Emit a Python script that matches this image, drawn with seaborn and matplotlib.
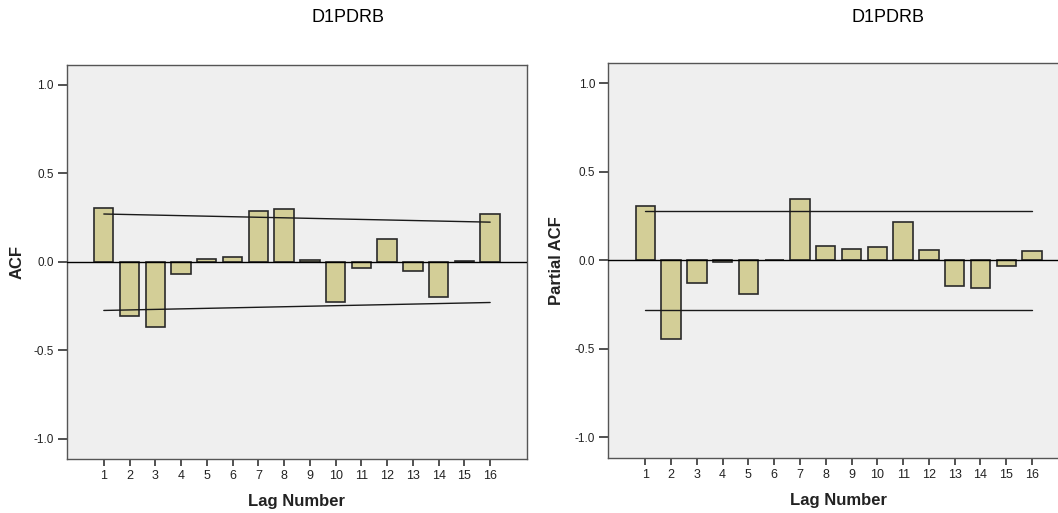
"""ACF / PACF bar charts for D1PDRB, SPSS look."""

import matplotlib
matplotlib.use("Agg")
import matplotlib.pyplot as plt
import numpy as np
import seaborn as sns

# ---- data ----
lags = [1, 2, 3, 4, 5, 6, 7, 8, 9, 10, 11, 12, 13, 14, 15, 16]
acf_values = [0.305, -0.308, -0.365, -0.070, 0.015, 0.028, 0.288, 0.297,
              0.009, -0.229, -0.036, 0.132, -0.049, -0.197, 0.007, 0.269]
pacf_values = [0.308, -0.445, -0.130, -0.011, -0.188, 0.004, 0.344, 0.081,
               0.062, 0.075, 0.214, 0.058, -0.143, -0.156, -0.032, 0.053]

acf_conf_lags = [1, 16]
acf_upper = [0.271, 0.225]
acf_lower = [-0.274, -0.229]
pacf_conf_lags = [1, 16]
pacf_upper = [0.281, 0.281]
pacf_lower = [-0.282, -0.282]

series_name = "D1PDRB"
y_ticks = [-1.0, -0.5, 0.0, 0.5, 1.0]

BAR_COLOR = "#D3CE97"
BG_COLOR = "#EFEFEF"
SPINE_COLOR = "#555555"
TEXT_COLOR = "#222222"

sns.set_style("ticks")
plt.rcParams["font.family"] = ["Liberation Sans", "DejaVu Sans"]

fig = plt.figure(figsize=(10.58, 5.13), dpi=100)
ax_acf = fig.add_axes([0.0633, 0.1047, 0.4348, 0.7686])
ax_pacf = fig.add_axes([0.5751, 0.1078, 0.4352, 0.7688])


def draw_panel(ax, values, conf_lags, upper, lower, ylabel, label_x):
    ax.set_facecolor(BG_COLOR)
    sns.barplot(x=lags, y=values, native_scale=True, width=0.75,
                color=BAR_COLOR, saturation=1, edgecolor="#2a2a2a",
                linewidth=1.2, errorbar=None, ax=ax, zorder=2)
    ax.axhline(0, color="black", linewidth=1.0, zorder=3)
    sns.lineplot(x=conf_lags, y=upper, color="#1a1a1a", linewidth=1.0,
                 ax=ax, zorder=4)
    sns.lineplot(x=conf_lags, y=lower, color="#1a1a1a", linewidth=1.0,
                 ax=ax, zorder=4)

    ax.set_xlim(-0.43, 17.43)
    ax.set_ylim(-1.115, 1.113)
    ax.set_xticks(lags)
    ax.set_xticklabels([str(v) for v in lags])
    ax.set_yticks(y_ticks)
    ax.set_yticklabels([f"{v:.1f}" for v in y_ticks])

    for side in ["left", "right", "top", "bottom"]:
        ax.spines[side].set_visible(True)
        ax.spines[side].set_color(SPINE_COLOR)
        ax.spines[side].set_linewidth(1.0)

    ax.tick_params(axis="y", direction="out", length=6.5, width=1.2,
                   color="#333333", pad=3, labelsize=8.5, labelcolor=TEXT_COLOR)
    ax.tick_params(axis="x", direction="out", length=5, width=1.2,
                   color="#333333", pad=3, labelsize=9, labelcolor=TEXT_COLOR)

    ax.set_xlabel("Lag Number", fontsize=12, fontweight="bold", color=TEXT_COLOR)
    ax.xaxis.set_label_coords(0.5, -0.108)
    ax.xaxis.label.set_va("center")
    ax.set_ylabel(ylabel, fontsize=12, fontweight="bold", color=TEXT_COLOR)
    ax.yaxis.set_label_coords(label_x, 0.5)
    ax.yaxis.label.set_va("center")
    ax.grid(False)


draw_panel(ax_acf, acf_values, acf_conf_lags, acf_upper, acf_lower, "ACF", -0.109)
draw_panel(ax_pacf, pacf_values, pacf_conf_lags, pacf_upper, pacf_lower,
           "Partial ACF", -0.112)

fig.text(0.329, 0.965, series_name, ha="center", va="center", fontsize=13,
         color="black")
fig.text(0.839, 0.965, series_name, ha="center", va="center", fontsize=13,
         color="black")

fig.savefig("out.png", dpi=100, facecolor="white")
plt.close(fig)
